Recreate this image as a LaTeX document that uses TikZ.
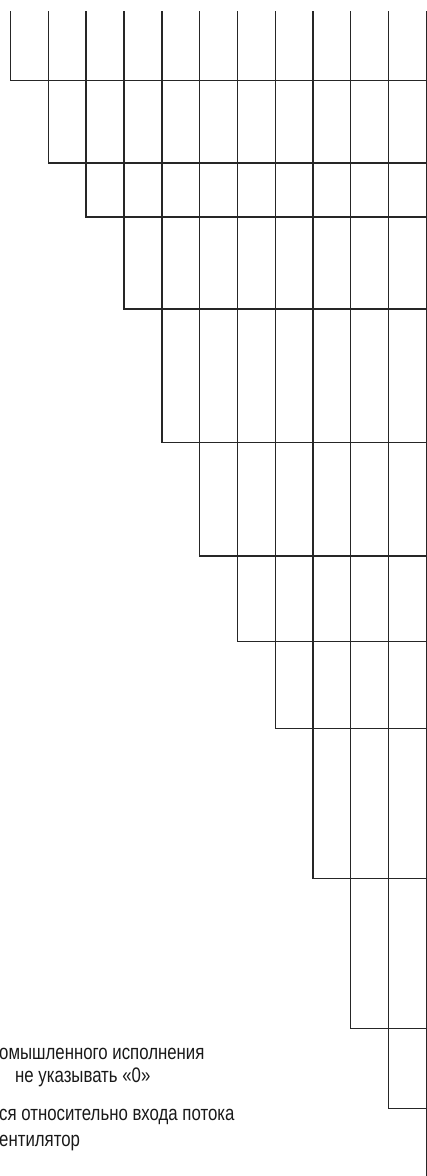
\documentclass[tikz,border=0pt]{standalone}
\usepackage{fontspec}
\setmainfont[FakeStretch=0.8]{Liberation Sans}
\usetikzlibrary{calc}

\begin{document}
\begin{tikzpicture}[
        x=1pt,
        y=-1pt,
        cell line/.style={line width=1.1pt,black!85,line cap=rect},
        note text/.style={anchor=base west,inner sep=0pt,
            font=\fontsize{21}{25}\selectfont,black!90}
    ]
        \useasboundingbox (0,0) rectangle (427,1176);
        \clip (0,0) rectangle (427,1176);

        % The staircase: each column line turns right into its row line.
        \coordinate (top) at (0,12);
        \coordinate (edge) at (426.3,0);
        \draw[cell line] (top -| 10.5,0) |- (edge |- 0,80.3);
        \draw[cell line] (top -| 48.3,0) |- (edge |- 0,163);
        \draw[cell line] (top -| 86,0) |- (edge |- 0,217);
        \draw[cell line] (top -| 124,0) |- (edge |- 0,309);
        \draw[cell line] (top -| 162,0) |- (edge |- 0,442.3);
        \draw[cell line] (top -| 199.7,0) |- (edge |- 0,556);
        \draw[cell line] (top -| 237.3,0) |- (edge |- 0,641.3);
        \draw[cell line] (top -| 275.3,0) |- (edge |- 0,728.7);
        \draw[cell line] (top -| 313,0) |- (edge |- 0,878.3);
        \draw[cell line] (top -| 350.7,0) |- (edge |- 0,1028.7);
        \draw[cell line] (top -| 388.7,0) |- (edge |- 0,1108.7);

        % The right edge runs on past the notes.
        \draw[cell line] (top -| edge) -- (edge |- 0,1176);

        % The notes, cut off at the left border.
        \node[note text] (noteone) at (-1,1059) {омышленного исполнения};
        \node[note text] (notetwo) at (15,1082) {не указывать «0»};
        \node[note text] (notethree) at (-1,1120) {ся относительно входа потока};
        \node[note text] (notefour) at (-1,1146) {ентилятор};
    \end{tikzpicture}
\end{document}
